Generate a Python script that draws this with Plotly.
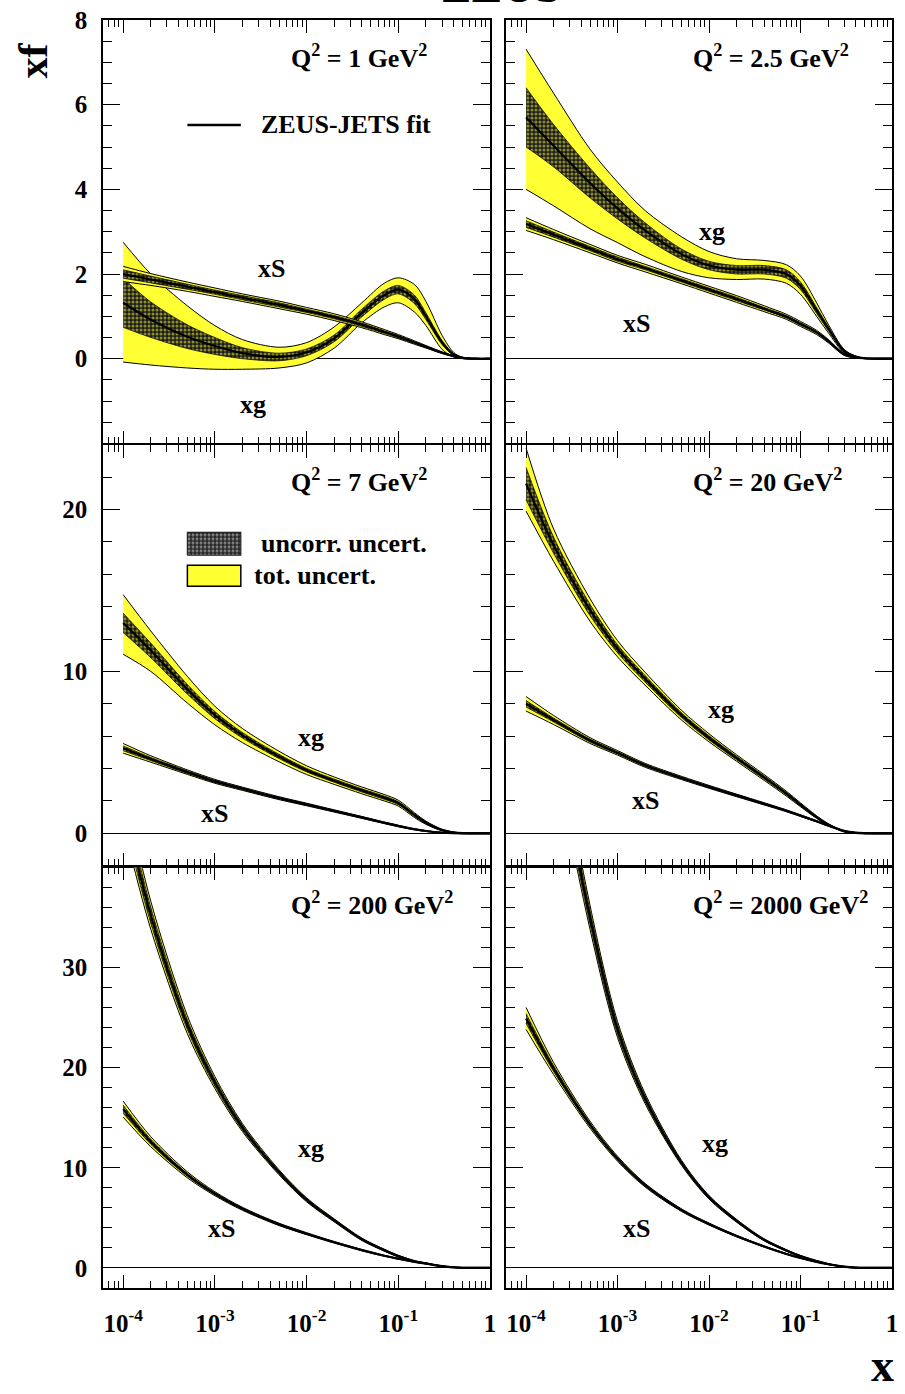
import plotly.graph_objects as go

# ---------------------------------------------------------------- data
# common x grid for all parton densities
x_grid = [1e-4, 2e-4, 5e-4, 1e-3, 2e-3, 5e-3, 1e-2, 2e-2, 4e-2, 7e-2,
          0.1, 0.15, 0.2, 0.3, 0.4, 0.5, 0.7, 1.0]

# Q^2 = 1 GeV^2
xg_q1 = [1.32, 0.92, 0.52, 0.30, 0.13, 0.04, 0.15, 0.48, 1.08, 1.50, 1.63, 1.40, 1.00, 0.38, 0.10, 0.02, 0.0, 0.0]
xg_q1_hi = [2.75, 2.00, 1.25, 0.78, 0.45, 0.27, 0.38, 0.75, 1.32, 1.78, 1.91, 1.75, 1.35, 0.55, 0.15, 0.03, 0.0, 0.0]
xg_q1_lo = [-0.08, -0.15, -0.22, -0.25, -0.25, -0.22, -0.10, 0.25, 0.85, 1.22, 1.32, 1.10, 0.78, 0.22, 0.04, 0.0, 0.0, 0.0]
xg_q1_unc = [0.58, 0.42, 0.28, 0.20, 0.13, 0.09, 0.08, 0.08, 0.09, 0.10, 0.10, 0.10, 0.08, 0.05, 0.02, 0.01, 0.0, 0.0]
xs_q1 = [2.00, 1.87, 1.70, 1.57, 1.44, 1.27, 1.13, 0.98, 0.80, 0.63, 0.52, 0.38, 0.28, 0.14, 0.06, 0.02, 0.0, 0.0]
xs_q1_tot = [0.18, 0.14, 0.11, 0.10, 0.09, 0.09, 0.08, 0.08, 0.07, 0.06, 0.05, 0.04, 0.03, 0.02, 0.01, 0.0, 0.0, 0.0]
xs_q1_unc = [0.10, 0.08, 0.06, 0.05, 0.05, 0.05, 0.04, 0.04, 0.04, 0.03, 0.03, 0.02, 0.02, 0.01, 0.0, 0.0, 0.0, 0.0]

# Q^2 = 2.5 GeV^2
xg_q2 = [5.70, 5.03, 4.15, 3.55, 3.03, 2.47, 2.20, 2.10, 2.10, 2.00, 1.72, 1.14, 0.72, 0.18, 0.05, 0.01, 0.0, 0.0]
xg_q2_hi = [7.31, 6.27, 4.95, 4.17, 3.50, 2.88, 2.53, 2.36, 2.32, 2.22, 1.95, 1.32, 0.82, 0.22, 0.06, 0.01, 0.0, 0.0]
xg_q2_lo = [4.00, 3.61, 3.07, 2.74, 2.41, 2.06, 1.91, 1.87, 1.88, 1.78, 1.52, 1.00, 0.62, 0.14, 0.04, 0.0, 0.0, 0.0]
xg_q2_unc = [0.70, 0.50, 0.35, 0.25, 0.18, 0.12, 0.10, 0.10, 0.10, 0.10, 0.09, 0.07, 0.05, 0.02, 0.01, 0.0, 0.0, 0.0]
xs_q2 = [3.18, 2.93, 2.60, 2.35, 2.14, 1.85, 1.63, 1.41, 1.18, 0.99, 0.82, 0.62, 0.42, 0.10, 0.03, 0.01, 0.0, 0.0]
xs_q2_tot = [0.15, 0.12, 0.10, 0.09, 0.09, 0.08, 0.08, 0.08, 0.07, 0.06, 0.06, 0.05, 0.04, 0.02, 0.01, 0.0, 0.0, 0.0]
xs_q2_unc = [0.08, 0.06, 0.05, 0.05, 0.04, 0.04, 0.04, 0.04, 0.03, 0.03, 0.03, 0.02, 0.02, 0.01, 0.0, 0.0, 0.0, 0.0]

# Q^2 = 7 GeV^2
xg_q3 = [13.0, 11.3, 8.9, 7.3, 6.05, 4.75, 3.9, 3.25, 2.65, 2.2, 1.86, 1.12, 0.65, 0.2, 0.06, 0.01, 0.0, 0.0]
xg_q3_hi = [14.74, 12.5, 9.7, 7.85, 6.47, 5.07, 4.17, 3.48, 2.86, 2.4, 2.04, 1.27, 0.75, 0.25, 0.08, 0.01, 0.0, 0.0]
xg_q3_lo = [11.06, 10.0, 8.05, 6.7, 5.6, 4.42, 3.63, 3.02, 2.44, 2.0, 1.68, 0.97, 0.55, 0.15, 0.04, 0.0, 0.0, 0.0]
xg_q3_unc = [0.6, 0.45, 0.3, 0.22, 0.17, 0.13, 0.11, 0.1, 0.1, 0.1, 0.09, 0.08, 0.06, 0.03, 0.01, 0.0, 0.0, 0.0]
xs_q3 = [5.25, 4.59, 3.78, 3.21, 2.75, 2.17, 1.78, 1.38, 0.98, 0.65, 0.45, 0.25, 0.14, 0.04, 0.01, 0.0, 0.0, 0.0]
xs_q3_tot = [0.30, 0.20, 0.14, 0.12, 0.10, 0.09, 0.08, 0.07, 0.06, 0.05, 0.05, 0.04, 0.03, 0.01, 0.0, 0.0, 0.0, 0.0]
xs_q3_unc = [0.15, 0.10, 0.08, 0.07, 0.06, 0.05, 0.05, 0.04, 0.04, 0.03, 0.03, 0.02, 0.02, 0.01, 0.0, 0.0, 0.0, 0.0]

# Q^2 = 20 GeV^2
xg_q4 = [21.6, 17.8, 13.8, 11.4, 9.55, 7.3, 5.9, 4.65, 3.45, 2.45, 1.76, 1.0, 0.55, 0.12, 0.02, 0.0, 0.0, 0.0]
xg_q4_hi = [23.8, 18.8, 14.5, 11.9, 9.95, 7.6, 6.15, 4.85, 3.63, 2.6, 1.88, 1.08, 0.6, 0.14, 0.03, 0.0, 0.0, 0.0]
xg_q4_lo = [19.9, 16.8, 13.1, 10.9, 9.15, 7.0, 5.65, 4.45, 3.27, 2.3, 1.64, 0.92, 0.5, 0.1, 0.02, 0.0, 0.0, 0.0]
xg_q4_unc = [1.0, 0.5, 0.35, 0.25, 0.2, 0.15, 0.13, 0.11, 0.1, 0.08, 0.07, 0.05, 0.03, 0.01, 0.0, 0.0, 0.0, 0.0]
xs_q4 = [8.0, 7.0, 5.73, 4.97, 4.2, 3.42, 2.87, 2.34, 1.82, 1.39, 1.09, 0.74, 0.48, 0.15, 0.04, 0.01, 0.0, 0.0]
xs_q4_tot = [0.45, 0.28, 0.18, 0.14, 0.12, 0.10, 0.09, 0.08, 0.07, 0.06, 0.05, 0.04, 0.03, 0.01, 0.0, 0.0, 0.0, 0.0]
xs_q4_unc = [0.20, 0.12, 0.09, 0.07, 0.06, 0.05, 0.05, 0.04, 0.04, 0.03, 0.03, 0.02, 0.02, 0.01, 0.0, 0.0, 0.0, 0.0]

# Q^2 = 200 GeV^2
xg_q5 = [46.3, 35.2, 24.3, 18.5, 14.0, 9.55, 6.8, 4.75, 2.86, 1.78, 1.18, 0.67, 0.46, 0.18, 0.06, 0.015, 0.0, 0.0]
xg_q5_hi = [48.3, 36.6, 25.2, 19.1, 14.4, 9.8, 7.0, 4.9, 2.98, 1.88, 1.26, 0.73, 0.5, 0.2, 0.07, 0.015, 0.0, 0.0]
xg_q5_lo = [44.3, 33.8, 23.4, 17.9, 13.6, 9.3, 6.6, 4.6, 2.74, 1.68, 1.10, 0.61, 0.42, 0.16, 0.05, 0.015, 0.0, 0.0]
xg_q5_unc = [1.2, 0.8, 0.5, 0.35, 0.25, 0.15, 0.12, 0.09, 0.07, 0.06, 0.05, 0.04, 0.03, 0.01, 0.0, 0.0, 0.0, 0.0]
xs_q5 = [15.85, 12.6, 9.3, 7.41, 5.9, 4.35, 3.42, 2.56, 1.78, 1.22, 0.92, 0.6, 0.42, 0.17, 0.07, 0.02, 0.0, 0.0]
xs_q5_tot = [0.8, 0.5, 0.3, 0.2, 0.15, 0.12, 0.1, 0.08, 0.07, 0.05, 0.04, 0.03, 0.02, 0.01, 0.0, 0.0, 0.0, 0.0]
xs_q5_unc = [0.4, 0.25, 0.15, 0.1, 0.08, 0.06, 0.05, 0.04, 0.03, 0.03, 0.02, 0.02, 0.01, 0.0, 0.0, 0.0, 0.0, 0.0]

# Q^2 = 2000 GeV^2
xg_q6 = [72.0, 54.0, 35.0, 23.8, 16.9, 10.5, 7.05, 4.71, 2.81, 1.75, 1.18, 0.68, 0.40, 0.13, 0.03, 0.005, 0.0, 0.0]
xg_q6_hi = [74.5, 56.0, 36.2, 24.6, 17.4, 10.75, 7.23, 4.85, 2.91, 1.83, 1.24, 0.72, 0.43, 0.14, 0.03, 0.005, 0.0, 0.0]
xg_q6_lo = [69.5, 52.0, 33.8, 23.0, 16.4, 10.25, 6.87, 4.57, 2.71, 1.67, 1.12, 0.64, 0.37, 0.12, 0.03, 0.005, 0.0, 0.0]
xg_q6_unc = [1.5, 1.2, 0.7, 0.5, 0.3, 0.15, 0.11, 0.08, 0.06, 0.05, 0.04, 0.03, 0.02, 0.01, 0.0, 0.0, 0.0, 0.0]
xs_q6 = [24.9, 19.9, 14.3, 10.9, 8.26, 5.77, 4.38, 3.18, 2.14, 1.4, 1.0, 0.6, 0.37, 0.12, 0.04, 0.01, 0.0, 0.0]
xs_q6_tot = [1.1, 0.6, 0.35, 0.25, 0.18, 0.13, 0.1, 0.08, 0.06, 0.05, 0.04, 0.03, 0.02, 0.01, 0.0, 0.0, 0.0, 0.0]
xs_q6_unc = [0.5, 0.3, 0.18, 0.12, 0.09, 0.07, 0.05, 0.04, 0.03, 0.03, 0.02, 0.02, 0.01, 0.0, 0.0, 0.0, 0.0, 0.0]

q2_labels = ["1", "2.5", "7", "20", "200", "2000"]
row_y_ranges = [[-2, 8], [-2, 24], [-2, 40]]
row_y_ticks = [[0, 2, 4, 6, 8], [0, 10, 20], [0, 10, 20, 30]]
row_y_minor = [0.5, 2, 2]
x_ticks = [1e-4, 1e-3, 1e-2, 1e-1, 1]
x_ticktext = ["10<sup>-4</sup>", "10<sup>-3</sup>", "10<sup>-2</sup>", "10<sup>-1</sup>", "1"]

# label placement (axis-domain fractions) for the xg / xS tags
xg_tag_pos = [(0.387, 0.092), (0.535, 0.500), (0.538, 0.305), (0.558, 0.371), (0.538, 0.331), (0.542, 0.343)]
xs_tag_pos = [(0.436, 0.413), (0.337, 0.283), (0.287, 0.125), (0.362, 0.154), (0.305, 0.142), (0.337, 0.142)]

panels = [
    (xg_q1, xg_q1_hi, xg_q1_lo, xg_q1_unc, xs_q1, xs_q1_tot, xs_q1_unc),
    (xg_q2, xg_q2_hi, xg_q2_lo, xg_q2_unc, xs_q2, xs_q2_tot, xs_q2_unc),
    (xg_q3, xg_q3_hi, xg_q3_lo, xg_q3_unc, xs_q3, xs_q3_tot, xs_q3_unc),
    (xg_q4, xg_q4_hi, xg_q4_lo, xg_q4_unc, xs_q4, xs_q4_tot, xs_q4_unc),
    (xg_q5, xg_q5_hi, xg_q5_lo, xg_q5_unc, xs_q5, xs_q5_tot, xs_q5_unc),
    (xg_q6, xg_q6_hi, xg_q6_lo, xg_q6_unc, xs_q6, xs_q6_tot, xs_q6_unc),
]

# ---------------------------------------------------------------- style
YELLOW = "#FFFF33"
FONT = "Liberation Serif"
# uncorrelated band: dark mesh with yellow holes over the total band
HATCH = dict(shape=".", fgcolor=YELLOW, bgcolor="#1c1c1c", size=4, solidity=0.45)
SMOOTH = 0.9

fig = go.Figure()


def xa(n):
    return "x" if n == 1 else f"x{n}"


def ya(n):
    return "y" if n == 1 else f"y{n}"


def add_band(n, lo, hi, fill, width, pattern=None):
    ax = dict(xaxis=xa(n), yaxis=ya(n))
    fig.add_trace(go.Scatter(x=x_grid, y=lo, mode="lines", hoverinfo="skip", showlegend=False,
                             line=dict(color="black", width=width, shape="spline", smoothing=SMOOTH), **ax))
    kw = dict(fillpattern=pattern, fillcolor="rgba(0,0,0,0)") if pattern else dict(fillcolor=fill)
    fig.add_trace(go.Scatter(x=x_grid, y=hi, mode="lines", fill="tonexty", hoverinfo="skip",
                             showlegend=False,
                             line=dict(color="black", width=width, shape="spline", smoothing=SMOOTH),
                             **kw, **ax))


def add_curve(n, central, tot_hi, tot_lo, unc):
    add_band(n, tot_lo, tot_hi, YELLOW, 1.0)
    unc_lo = [c - u for c, u in zip(central, unc)]
    unc_hi = [c + u for c, u in zip(central, unc)]
    add_band(n, unc_lo, unc_hi, None, 0.7, pattern=HATCH)
    fig.add_trace(go.Scatter(x=x_grid, y=central, mode="lines", hoverinfo="skip", showlegend=False,
                             line=dict(color="black", width=2.2, shape="spline", smoothing=SMOOTH),
                             xaxis=xa(n), yaxis=ya(n)))


for i, (xg, xg_hi, xg_lo, xg_unc, xs, xs_tot, xs_unc) in enumerate(panels):
    n = i + 1
    add_curve(n, xg, xg_hi, xg_lo, xg_unc)
    add_curve(n, xs, [c + t for c, t in zip(xs, xs_tot)], [c - t for c, t in zip(xs, xs_tot)], xs_unc)

# ---------------------------------------------------------------- axes
x_domains = [[0.0, 0.4906], [0.5107, 1.0]]
# rows share their frame edges (small gaps absorb the line widths)
y_domains = [[0.66614, 1.0], [0.33307, 0.66496], [0.0, 0.33189]]
x_range = [-4.22, 0.0]
minor_x = [k * 10.0 ** d for d in range(-5, 0) for k in range(2, 10) if k * 10.0 ** d > 6.1e-5]

layout = dict(
    width=905, height=1394,
    margin=dict(l=103, r=7, t=18, b=106),
    paper_bgcolor="white", plot_bgcolor="white",
    font=dict(family=FONT, size=24, color="black", weight="bold"),
    showlegend=False,
)

tickfont = dict(family=FONT, size=25, color="black", weight="bold")
for i in range(6):
    n = i + 1
    row, col = divmod(i, 2)
    sfx = "" if n == 1 else str(n)
    layout["xaxis" + sfx] = dict(
        domain=x_domains[col], anchor=ya(n), type="log", range=x_range,
        showline=True, linecolor="black", linewidth=1.5, mirror="allticks",
        ticks="inside", ticklen=13, tickwidth=1.3, tickcolor="black",
        tickmode="array", tickvals=x_ticks, ticktext=x_ticktext,
        showticklabels=(row == 2), ticklabelstandoff=12, tickfont=tickfont,
        minor=dict(tickmode="array", tickvals=minor_x, ticks="inside", ticklen=7,
                   tickwidth=1.1, tickcolor="black", showgrid=False),
        showgrid=False, zeroline=False,
    )
    layout["yaxis" + sfx] = dict(
        domain=y_domains[row], anchor=xa(n), range=row_y_ranges[row],
        showline=True, linecolor="black", linewidth=1.5, mirror="allticks",
        ticks="inside", ticklen=17, tickwidth=1.3, tickcolor="black",
        tickmode="array", tickvals=row_y_ticks[row],
        showticklabels=(col == 0), ticklabelstandoff=9, tickfont=tickfont,
        minor=dict(tickmode="linear", tick0=0, dtick=row_y_minor[row], ticks="inside",
                   ticklen=9, tickwidth=1.1, tickcolor="black", showgrid=False),
        showgrid=False, zeroline=True, zerolinecolor="black", zerolinewidth=1.2,
    )

fig.update_layout(**layout)

# ---------------------------------------------------------------- text
bold = dict(family=FONT, color="black", weight="bold")
ann = []
for i in range(6):
    n = i + 1
    xr, yr_ = xa(n) + " domain", ya(n) + " domain"
    ann.append(dict(text=f"Q<sup>2</sup> = {q2_labels[i]} GeV<sup>2</sup>",
                    xref=xr, yref=yr_, x=0.48, y=0.9145,
                    xanchor="left", yanchor="middle", showarrow=False, font=dict(size=26, **bold)))
    gx, gy = xg_tag_pos[i]
    sx, sy = xs_tag_pos[i]
    ann.append(dict(text="xg", xref=xr, yref=yr_, x=gx, y=gy, xanchor="center", yanchor="middle",
                    showarrow=False, font=dict(size=26, **bold)))
    ann.append(dict(text="xS", xref=xr, yref=yr_, x=sx, y=sy, xanchor="center", yanchor="middle",
                    showarrow=False, font=dict(size=26, **bold)))

# legend texts
ann.append(dict(text="ZEUS-JETS fit", xref="x domain", yref="y domain", x=0.403, y=0.752,
                xanchor="left", yanchor="middle", showarrow=False, font=dict(size=26, **bold)))
ann.append(dict(text="uncorr. uncert.", xref="x3 domain", yref="y3 domain", x=0.403, y=0.766,
                xanchor="left", yanchor="middle", showarrow=False, font=dict(size=26, **bold)))
ann.append(dict(text="tot. uncert.", xref="x3 domain", yref="y3 domain", x=0.385, y=0.690,
                xanchor="left", yanchor="middle", showarrow=False, font=dict(size=26, **bold)))

# figure titles
ann.append(dict(text="xf", xref="paper", yref="paper", x=-0.0893, y=0.9677, textangle=-90,
                xanchor="center", yanchor="middle", showarrow=False, font=dict(size=42, **bold)))
ann.append(dict(text="x", xref="paper", yref="paper", x=0.9874, y=-0.0825,
                xanchor="center", yanchor="bottom", showarrow=False, font=dict(size=46, **bold)))
ann.append(dict(text="ZEUS", xref="paper", yref="paper", x=0.504, y=1.0047, xanchor="center",
                yanchor="bottom", showarrow=False, font=dict(size=46, **bold)))
fig.update_layout(annotations=ann)

# legend keys
fig.add_shape(type="line", xref="x domain", yref="y domain", x0=0.218, x1=0.356, y0=0.752, y1=0.752,
              line=dict(color="black", width=2.6))
fig.add_shape(type="rect", xref="x3 domain", yref="y3 domain", x0=0.218, x1=0.356, y0=0.664, y1=0.714,
              fillcolor=YELLOW, line=dict(color="black", width=1.5))

# hatched key drawn in data units of the Q^2 = 7 panel
lx0 = 10 ** (x_range[0] + 0.218 * (x_range[1] - x_range[0]))
lx1 = 10 ** (x_range[0] + 0.356 * (x_range[1] - x_range[0]))
yr = row_y_ranges[1]
ly0 = yr[0] + 0.7376 * (yr[1] - yr[0])
ly1 = yr[0] + 0.792 * (yr[1] - yr[0])
fig.add_trace(go.Scatter(x=[lx0, lx1, lx1, lx0, lx0], y=[ly0, ly0, ly1, ly1, ly0], mode="lines",
                         fill="toself", fillcolor="white", hoverinfo="skip", showlegend=False,
                         fillpattern=dict(shape=".", fgcolor="#e0e0e0", bgcolor="#262626", size=4, solidity=0.45),
                         line=dict(color="#222", width=1.2), xaxis="x3", yaxis="y3"))

fig.write_html("out.html")
